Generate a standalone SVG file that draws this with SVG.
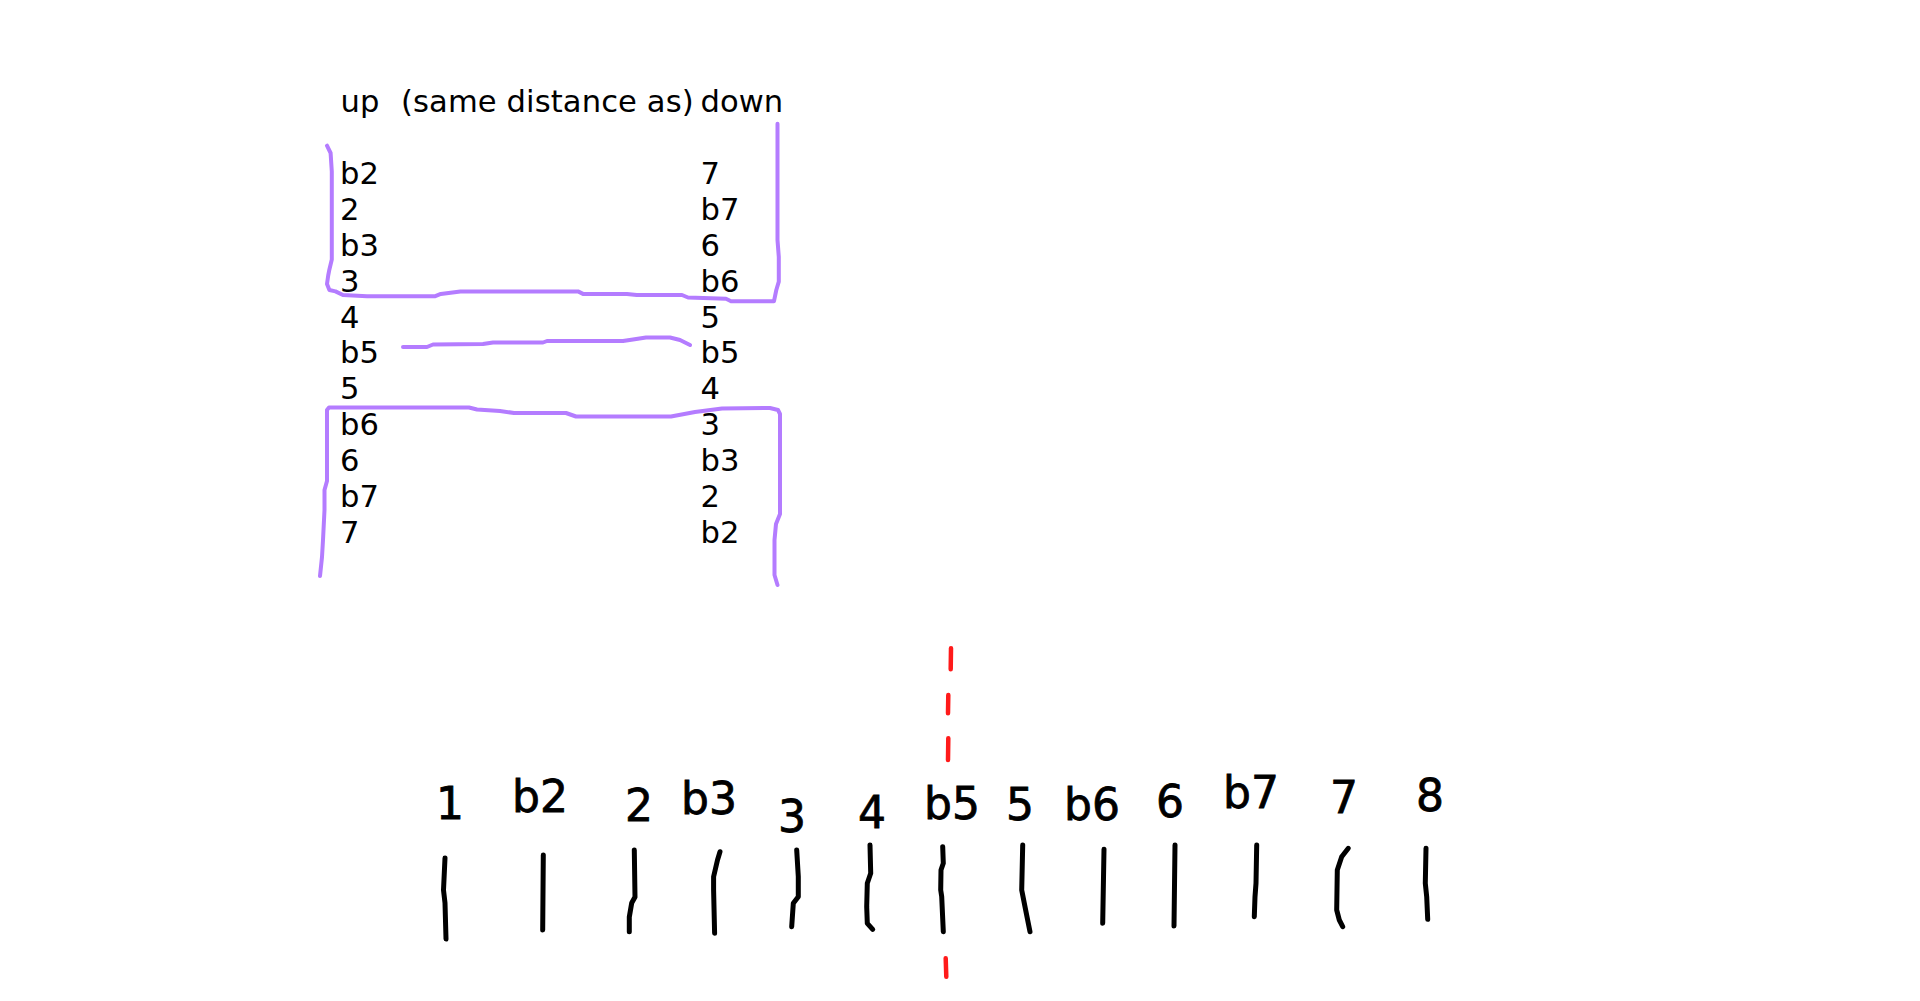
<svg xmlns="http://www.w3.org/2000/svg" width="1920" height="1001" viewBox="0 0 1920 1001">
<style>
.t{font-family:"DejaVu Sans","Verdana",sans-serif;font-size:30.6px;fill:#000}
.h{font-family:"DejaVu Sans",sans-serif;font-size:44px;fill:#000;stroke:#000;stroke-width:0.8;text-anchor:middle}
.p{fill:none;stroke:#b47cff;stroke-width:4;stroke-linecap:round;stroke-linejoin:round}
.k{fill:none;stroke:#000;stroke-width:5;stroke-linecap:round;stroke-linejoin:round}
.r{fill:none;stroke:#ff1a1a;stroke-width:4.5;stroke-linecap:round}
</style>
<rect width="1920" height="1001" fill="#fff"/>
<g id="header">
<text class="t" y="112"><tspan x="340.5">up</tspan><tspan x="401" letter-spacing="0.1">(same distance as)</tspan><tspan x="700.5">down</tspan></text>
</g>
<g id="up-column">
<text class="t" x="340" y="184">b2</text>
<text class="t" x="340" y="220">2</text>
<text class="t" x="340" y="256">b3</text>
<text class="t" x="340" y="292">3</text>
<text class="t" x="340" y="328">4</text>
<text class="t" x="340" y="363">b5</text>
<text class="t" x="340" y="399">5</text>
<text class="t" x="340" y="435">b6</text>
<text class="t" x="340" y="471">6</text>
<text class="t" x="340" y="507">b7</text>
<text class="t" x="340" y="543">7</text>
</g>
<g id="down-column">
<text class="t" x="700.5" y="184">7</text>
<text class="t" x="700.5" y="220">b7</text>
<text class="t" x="700.5" y="256">6</text>
<text class="t" x="700.5" y="292">b6</text>
<text class="t" x="700.5" y="328">5</text>
<text class="t" x="700.5" y="363">b5</text>
<text class="t" x="700.5" y="399">4</text>
<text class="t" x="700.5" y="435">3</text>
<text class="t" x="700.5" y="471">b3</text>
<text class="t" x="700.5" y="507">2</text>
<text class="t" x="700.5" y="543">b2</text>
</g>
<g id="connectors">
<path class="p" d="M327,145.7 L330.6,153 L331.8,171.4 L331.8,259.6 L329.4,269.4 L328.2,275.5 L327,284 L329.4,290 L335.5,291.4 L342.9,295 L367,296.3 L434.7,296.3 L440.8,293.9 L460.4,291.4 L578,291.4 L583,293.9 L627,293.9 L636.7,295 L682,295 L688,297.5 L726,298.8 L731,301.2 L774,301.2 L776.3,290 L778.8,281.6 L778.8,257 L777.5,240 L777.5,123.7"/>
<path class="p" d="M403,347 L427,347 L433,344.5 L483,344 L493,342.5 L543,342.5 L547,341 L623,341 L633,339.5 L646,337.5 L670,337.5 L680,340 L690,345"/>
<path class="p" d="M320,576 L322,557 L323,540 L324.5,510 L324.5,490 L327,481 L327,410 L329,407.5 L469,407.5 L477,409.5 L500,411 L514,413 L566,413 L576,416.5 L671,416.5 L695,412 L722,408.5 L770,408 L778,410 L780,414 L780,514 L776,524 L774.5,540 L774.5,575 L777.5,585"/>
<g id="ticks">
<path class="k" d="M445,858 L443.5,890 L445,903 L446,939"/>
<path class="k" d="M543.3,855 L542.7,930"/>
<path class="k" d="M634.3,850 L635,897 L631.7,903 L629.3,917 L629.3,931.7"/>
<path class="k" d="M720,851.7 L717.5,860 L713.6,876.7 L713.6,890 L714.6,933.3"/>
<path class="k" d="M796.7,850 L798.3,876.7 L798.3,896.7 L793.3,903.3 L791.7,926.7"/>
<path class="k" d="M870,845 L870.7,873.3 L867.3,883.3 L866.7,906.7 L867.3,923.3 L872.7,929.3"/>
<path class="k" d="M942.7,846.7 L943.3,863.3 L941,870 L940.7,890 L941.7,896.7 L943.3,931.7"/>
<path class="k" d="M1022.7,845 L1021.7,890 L1025,906.7 L1030,931.7"/>
<path class="k" d="M1104,849.3 L1102.7,923.3"/>
<path class="k" d="M1175,845 L1174,926"/>
<path class="k" d="M1256.7,845 L1256,883.3 L1255,896.7 L1254.3,916.7"/>
<path class="k" d="M1348.3,848.3 L1341.7,856.7 L1337.3,870 L1336.7,910 L1339.3,920 L1342.7,926.7"/>
<path class="k" d="M1426,848.3 L1425.3,883.3 L1426.7,896.7 L1427.7,919.3"/>
</g>
<g id="axis-b5">
<path class="r" d="M951,648.3 L950.7,669.3"/>
<path class="r" d="M948.3,695 L948,713.3"/>
<path class="r" d="M948.3,738.3 L948,760"/>
<path class="r" d="M945.7,958.3 L946.3,976.7"/>
</g>
</g>
<g id="scale-labels">
<text class="h" x="450" y="819">1</text>
<text class="h" x="540" y="812">b2</text>
<text class="h" x="639" y="821">2</text>
<text class="h" x="709" y="814">b3</text>
<text class="h" x="792" y="832">3</text>
<text class="h" x="872" y="828">4</text>
<text class="h" x="952" y="819">b5</text>
<text class="h" x="1020" y="820">5</text>
<text class="h" x="1092" y="820">b6</text>
<text class="h" x="1170" y="817">6</text>
<text class="h" x="1251" y="808">b7</text>
<text class="h" x="1344" y="813">7</text>
<text class="h" x="1430" y="811">8</text>
</g>
</svg>
